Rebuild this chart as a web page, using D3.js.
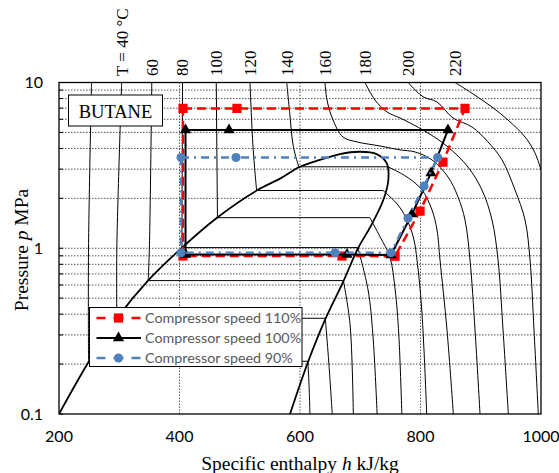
<!DOCTYPE html>
<html><head><meta charset="utf-8">
<script src="https://cdn.jsdelivr.net/npm/d3@7"></script>
<style>body{margin:0;background:#fff}</style>
</head><body>
<svg id="c" width="559" height="473"></svg>
<script>
// ---------------- data ----------------
const xTicks = [200, 400, 600, 800, 1000];
const yTickLabels = [[0.1, "0.1"], [1, "1"], [10, "10"]];
const yGrid = [0.2,0.3,0.4,0.5,0.6,0.7,0.8,0.9,1,2,3,4,5,6,7,8,9];
const xGrid = [400, 600, 800];

// saturation dome (h kJ/kg, p MPa)
const dome = [[200,0.1],[249.8,0.208],[296.3,0.378],[347.7,0.638],[404.2,1.009],[462.3,1.529],[528.1,2.23],
  [566.8,2.63],[600,3.1],[633,3.41],[666.4,3.70],[699.6,3.82],[727.3,3.70],[743.9,3.26],[746.6,2.58],
  [738.3,1.955],[716.5,1.34],[696.3,1.0],[671.4,0.625],[641.5,0.37],[613.3,0.206],[583.4,0.1]];

// isotherms: liquid branch / vapour branch (subcritical), full curve (supercritical)
const iso20L = [[254,10],[249,1],[249,0.208]];
const iso20V = [[613,0.208],[615,0.15],[616.5,0.1]];
const iso40L = [[304,10],[296,1],[296,0.378]];
const iso40V = [[642,0.378],[648,0.2],[653.5,0.1]];
const iso60L = [[354,10],[350,1],[348,0.638]];
const iso60V = [[672,0.638],[683,0.35],[688.5,0.1]];
const iso80L = [[405,10],[404,1.009]];
const iso80V = [[696,1.009],[713,0.56],[721,0.3],[728,0.1]];
const iso100L = [[461,10],[463,1.529]];
const iso100V = [[716,1.529],[733,1.17],[749,0.89],[758,0.56],[764,0.3],[769,0.1]];
const iso120L = [[517,10],[522,4.1],[528,2.23]];
const iso120V = [[737.8,2.23],[762.7,1.823],[779.3,1.44],[789.2,1.121],[794.2,0.849],[800.9,0.487],[805.8,0.243],[810.3,0.1]];
const iso140L = [[578,10],[583,6.5],[589,4.1],[598,3.1]];
const iso140V = [[746,3.1],[777.6,2.69],[802.5,2.245],[819.1,1.70],[827.4,1.289],[832.4,0.849],[844,0.321],[854.5,0.1]];
const iso160 = [[641.5,10],[644.8,7.84],[654.8,5.94],[671.4,4.69],[694.6,4.38],[732.8,4.14],[766,3.92],[790.9,3.81],
  [819.1,3.41],[845.7,2.69],[862.3,2.04],[873.9,1.48],[882.2,0.849],[890.5,0.321],[898.8,0.1]];
const iso180 = [[707.9,10],[724.5,7.84],[744.4,6.64],[766,6.11],[782.6,5.70],[812.5,4.96],[845.7,4.08],[878.9,3.09],
  [902.1,2.245],[918.7,1.48],[928.7,0.849],[937,0.321],[945.8,0.1]];
const iso200 = [[779.3,10],[804.2,8.21],[827.4,7.63],[853.9,6.11],[885.5,5.39],[912,4.38],[935.3,3.41],[956.9,2.245],
  [973.5,1.48],[981.8,0.849],[988.4,0.321],[995.5,0.1]];
const iso220 = [[857.3,10],[885.5,8.61],[918.7,7.11],[945.2,5.94],[973.5,4.69],[990.1,3.75],[1000,2.97]];

const isoLabels = ["", "T = 40 \u00B0C", "60", "80", "100", "120", "140", "160", "180", "200", "220"];

// cycles
const s110H = [405.8, 495.4, 873.9, 837.3, 799.2, 757.7, 669.7, 405.8];
const s110P = [6.97, 6.97, 6.97, 3.31, 1.677, 0.895, 0.898, 0.898];
const s100H = [410, 482.2, 845.6, 817.4, 785.9, 751, 678, 410];
const s100P = [5.17, 5.17, 5.17, 2.84, 1.61, 0.91, 0.918, 0.918];
const s90H  = [402.5, 493.8, 828.5, 805.8, 779.3, 751, 658.1, 402.5];
const s90P  = [3.53, 3.53, 3.53, 2.37, 1.516, 0.94, 0.94, 0.94];
const seriesNames = ["Compressor speed 110%", "Compressor speed 100%", "Compressor speed 90%"];

// ---------------- drawing ----------------
const svg = d3.select("#c");
const L = 59, R = 541, T = 82.5, B = 414;
const x = d3.scaleLinear().domain([200, 1000]).range([L, R]);
const y = d3.scaleLog().domain([0.1, 10]).range([B, T]);

svg.append("defs").append("clipPath").attr("id", "clip")
  .append("rect").attr("x", L).attr("y", T).attr("width", R - L).attr("height", B - T);

// grid
const grid = svg.append("g");
yGrid.forEach(p => grid.append("line").attr("x1", L).attr("x2", R).attr("y1", y(p)).attr("y2", y(p))
  .attr("stroke", "#555").attr("stroke-width", 1).attr("stroke-dasharray", "1.5,1.5"));
xGrid.forEach(h => grid.append("line").attr("y1", T).attr("y2", B).attr("x1", x(h)).attr("x2", x(h))
  .attr("stroke", "#555").attr("stroke-width", 1).attr("stroke-dasharray", "1.5,1.5"));
// inward ticks on left axis
yGrid.concat([0.1, 10]).forEach(p => grid.append("line").attr("x1", L).attr("x2", L + 4)
  .attr("y1", y(p)).attr("y2", y(p)).attr("stroke", "#000"));

const plot = svg.append("g").attr("clip-path", "url(#clip)");
const curve = d3.line().x(d => x(d[0])).y(d => y(d[1])).curve(d3.curveCatmullRom.alpha(0.5));
const straight = d3.line().x(d => x(d[0])).y(d => y(d[1]));

const subcrit = [[iso20L, iso20V], [iso40L, iso40V], [iso60L, iso60V], [iso80L, iso80V],
  [iso100L, iso100V], [iso120L, iso120V], [iso140L, iso140V]];
const supercrit = [iso160, iso180, iso200, iso220];
const isoStyle = s => s.attr("fill", "none").attr("stroke", "#000").attr("stroke-width", 1);
subcrit.forEach(([l, v]) => {
  plot.append("path").attr("d", curve(l)).call(isoStyle);
  plot.append("path").attr("d", straight([l[l.length - 1], v[0]])).call(isoStyle);
  plot.append("path").attr("d", curve(v)).call(isoStyle);
});
supercrit.forEach(c => plot.append("path").attr("d", curve(c)).call(isoStyle));

// dome
plot.append("path").attr("d", curve(dome)).attr("fill", "none").attr("stroke", "#000").attr("stroke-width", 1.8);

// isotherm labels
const allIso = subcrit.map(d => d[0]).concat(supercrit);
allIso.forEach((c, i) => {
  if (!isoLabels[i]) return;
  const tx = x(c[0][0]);
  svg.append("text").attr("transform", `translate(${tx},76) rotate(-90)`)
    .attr("dy", "0.35em").attr("font-family", "Liberation Serif").attr("font-size", 17)
    .attr("fill", "#000").text(isoLabels[i]);
});

// cycles
const series = [
  {h: s110H, p: s110P, color: "#FF0000", dash: "9,5", width: 2.5, marker: "square"},
  {h: s100H, p: s100P, color: "#000000", dash: null, width: 2, marker: "triangle"},
  {h: s90H,  p: s90P,  color: "#4F81BD", dash: "8,5,2,5", width: 2.5, marker: "circle"}
];
const symbol = {square: d3.symbolSquare, triangle: d3.symbolTriangle, circle: d3.symbolCircle};
const symSize = {square: 85, triangle: 55, circle: 65};
series.forEach(s => {
  const pts = s.h.map((h, i) => [h, s.p[i]]);
  plot.append("path").attr("d", straight(pts.concat([pts[0]])))
    .attr("fill", "none").attr("stroke", s.color).attr("stroke-width", s.width)
    .attr("stroke-dasharray", s.dash);
  pts.forEach(d => plot.append("path").attr("d", d3.symbol(symbol[s.marker], symSize[s.marker])())
    .attr("transform", `translate(${x(d[0])},${y(d[1])})`).attr("fill", s.color));
});

// border
svg.append("rect").attr("x", L).attr("y", T).attr("width", R - L).attr("height", B - T)
  .attr("fill", "none").attr("stroke", "#000").attr("stroke-width", 1.3);

// tick labels
xTicks.forEach(h => svg.append("text").attr("x", x(h)).attr("y", 442).attr("text-anchor", "middle")
  .attr("font-family", "Lato").attr("font-size", 16).text(h));
yTickLabels.forEach(([p, t]) => svg.append("text").attr("x", 43).attr("y", y(p)).attr("dy", "0.35em")
  .attr("text-anchor", "end").attr("font-family", "Lato").attr("font-size", 16).text(t));

// axis titles
const xt = svg.append("text").attr("x", 300).attr("y", 470).attr("text-anchor", "middle")
  .attr("font-family", "Liberation Serif").attr("font-size", 19.5);
xt.append("tspan").text("Specific enthalpy ");
xt.append("tspan").attr("font-style", "italic").text("h");
xt.append("tspan").text(" kJ/kg");
const yt = svg.append("text").attr("transform", "translate(28,250) rotate(-90)").attr("text-anchor", "middle")
  .attr("font-family", "Liberation Serif").attr("font-size", 19.5);
yt.append("tspan").text("Pressure ");
yt.append("tspan").attr("font-style", "italic").text("p");
yt.append("tspan").text(" MPa");

// BUTANE box
svg.append("rect").attr("x", 68.5).attr("y", 95).attr("width", 94).attr("height", 31)
  .attr("fill", "#fff").attr("stroke", "#000").attr("stroke-width", 1);
svg.append("text").attr("x", 115.5).attr("y", 117.5).attr("text-anchor", "middle")
  .attr("font-family", "Liberation Serif").attr("font-size", 18.5).text("BUTANE");

// legend
const lg = svg.append("g");
lg.append("rect").attr("x", 89.5).attr("y", 307.5).attr("width", 212.5).attr("height", 59)
  .attr("fill", "#fff").attr("stroke", "#000").attr("stroke-width", 1);
series.forEach((s, i) => {
  const cy = 318 + i * 20;
  lg.append("line").attr("x1", 96.5).attr("x2", 141).attr("y1", cy).attr("y2", cy)
    .attr("stroke", s.color).attr("stroke-width", s.width)
    .attr("stroke-dasharray", s.dash ? "9,8,10,8,9" : null);
  lg.append("path").attr("d", d3.symbol(symbol[s.marker], symSize[s.marker])())
    .attr("transform", `translate(118.5,${cy})`).attr("fill", s.color);
  lg.append("text").attr("x", 145).attr("y", cy).attr("dy", "0.35em")
    .attr("font-family", "Lato").attr("font-size", 14.3).attr("fill", "#595959").text(seriesNames[i]);
});
</script>
</body></html>
